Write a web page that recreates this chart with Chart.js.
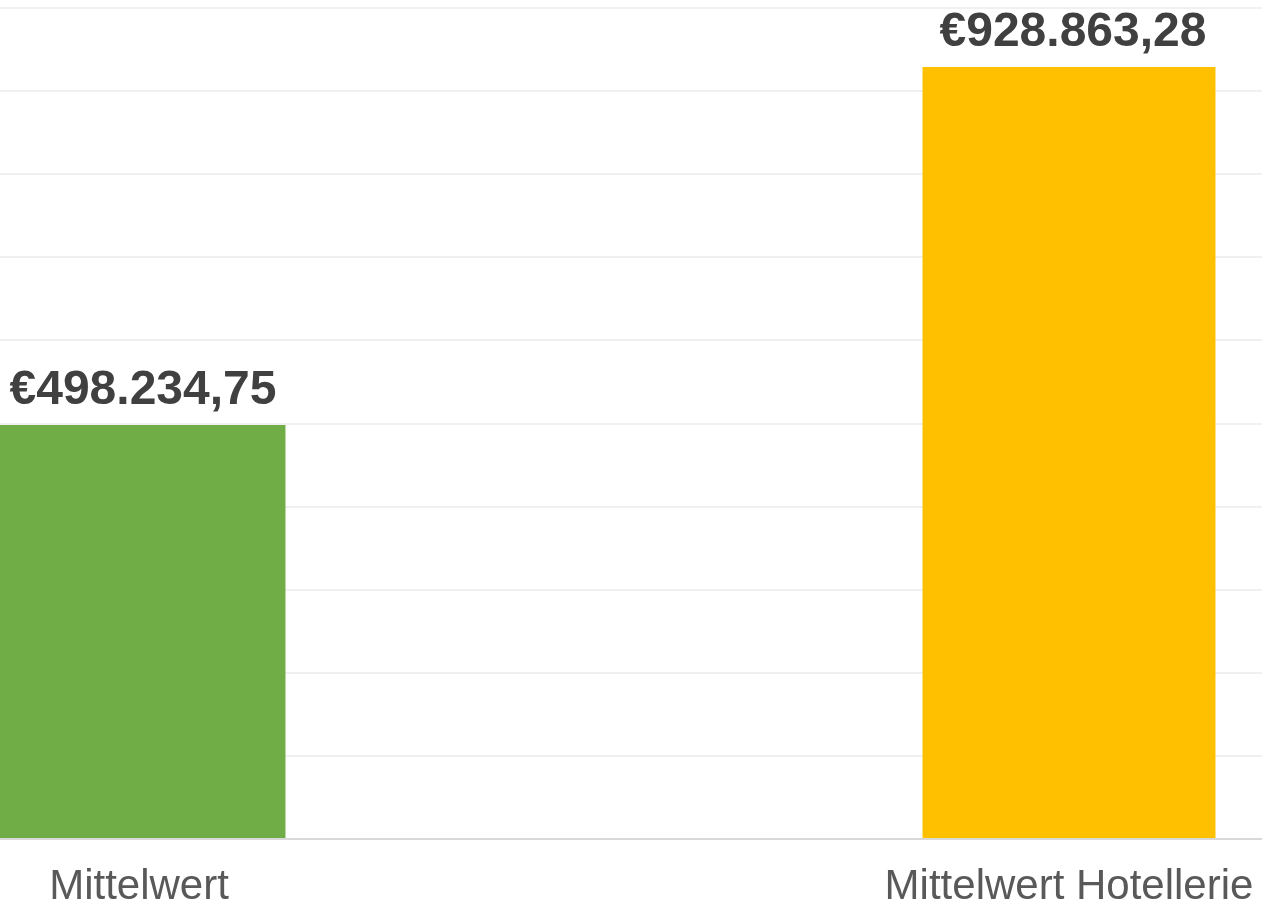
<!DOCTYPE html>
<html>
<head>
<meta charset="utf-8">
<script src="https://cdn.jsdelivr.net/npm/chart.js@4"></script>
<style>
  html, body { margin: 0; padding: 0; background: #fff; overflow: hidden; width: 1262px; height: 906px; }
  #wrap { position: absolute; left: -326px; top: 0; width: 1860px; height: 906px; }
</style>
</head>
<body>
<div id="wrap"><canvas id="barChart" width="1860" height="906"></canvas></div>
<script>
const categories = ['Mittelwert', 'Mittelwert Hotellerie'];
const values = [498234.75, 928863.28];
const barColors = ['#70AD47', '#FFC000'];
const yMax = 1000000;
const yStep = 100000;

const euro = (v) => '€' + v.toLocaleString('de-DE', { minimumFractionDigits: 2, maximumFractionDigits: 2 });

// draw value labels above bars
const valueLabels = {
        id: 'valueLabels',
        afterDatasetsDraw(chart) {
                const ctx = chart.ctx;
                const meta = chart.getDatasetMeta(0);
                ctx.save();
                ctx.font = 'bold 48px "Liberation Sans", Arial, sans-serif';
                ctx.fillStyle = '#404040';
                ctx.textAlign = 'center';
                ctx.textBaseline = 'alphabetic';
                meta.data.forEach((bar, i) => {
                        ctx.fillText(euro(values[i]), bar.x + 4, bar.y - 21);
                });
                ctx.restore();
        }
};

const ctx = document.getElementById('barChart').getContext('2d');
new Chart(ctx, {
        type: 'bar',
        data: {
                labels: categories,
                datasets: [{
                        data: values,
                        backgroundColor: barColors,
                        borderWidth: 0,
                        categoryPercentage: 1,
                        barPercentage: 0.315
                }]
        },
        options: {
                responsive: false,
                animation: false,
                devicePixelRatio: 1,
                layout: { padding: { top: 8, left: 0, right: 0, bottom: 0 } },
                plugins: {
                        legend: { display: false },
                        tooltip: { enabled: false }
                },
                scales: {
                        x: {
                                grid: { display: false, drawTicks: false },
                                border: { display: true, color: '#d9d9d9', width: 2 },
                                ticks: {
                                        color: '#595959',
                                        padding: 23,
                                        maxRotation: 0,
                                        font: { family: '"Liberation Sans", Arial, sans-serif', size: 42 }
                                },
                                afterFit: (scale) => { scale.height = 67; }
                        },
                        y: {
                                min: 0,
                                max: yMax,
                                ticks: { display: false, stepSize: yStep },
                                grid: { color: '#f0f0f0', lineWidth: 2, drawTicks: false },
                                border: { display: false }
                        }
                }
        },
        plugins: [valueLabels]
});
</script>
</body>
</html>
